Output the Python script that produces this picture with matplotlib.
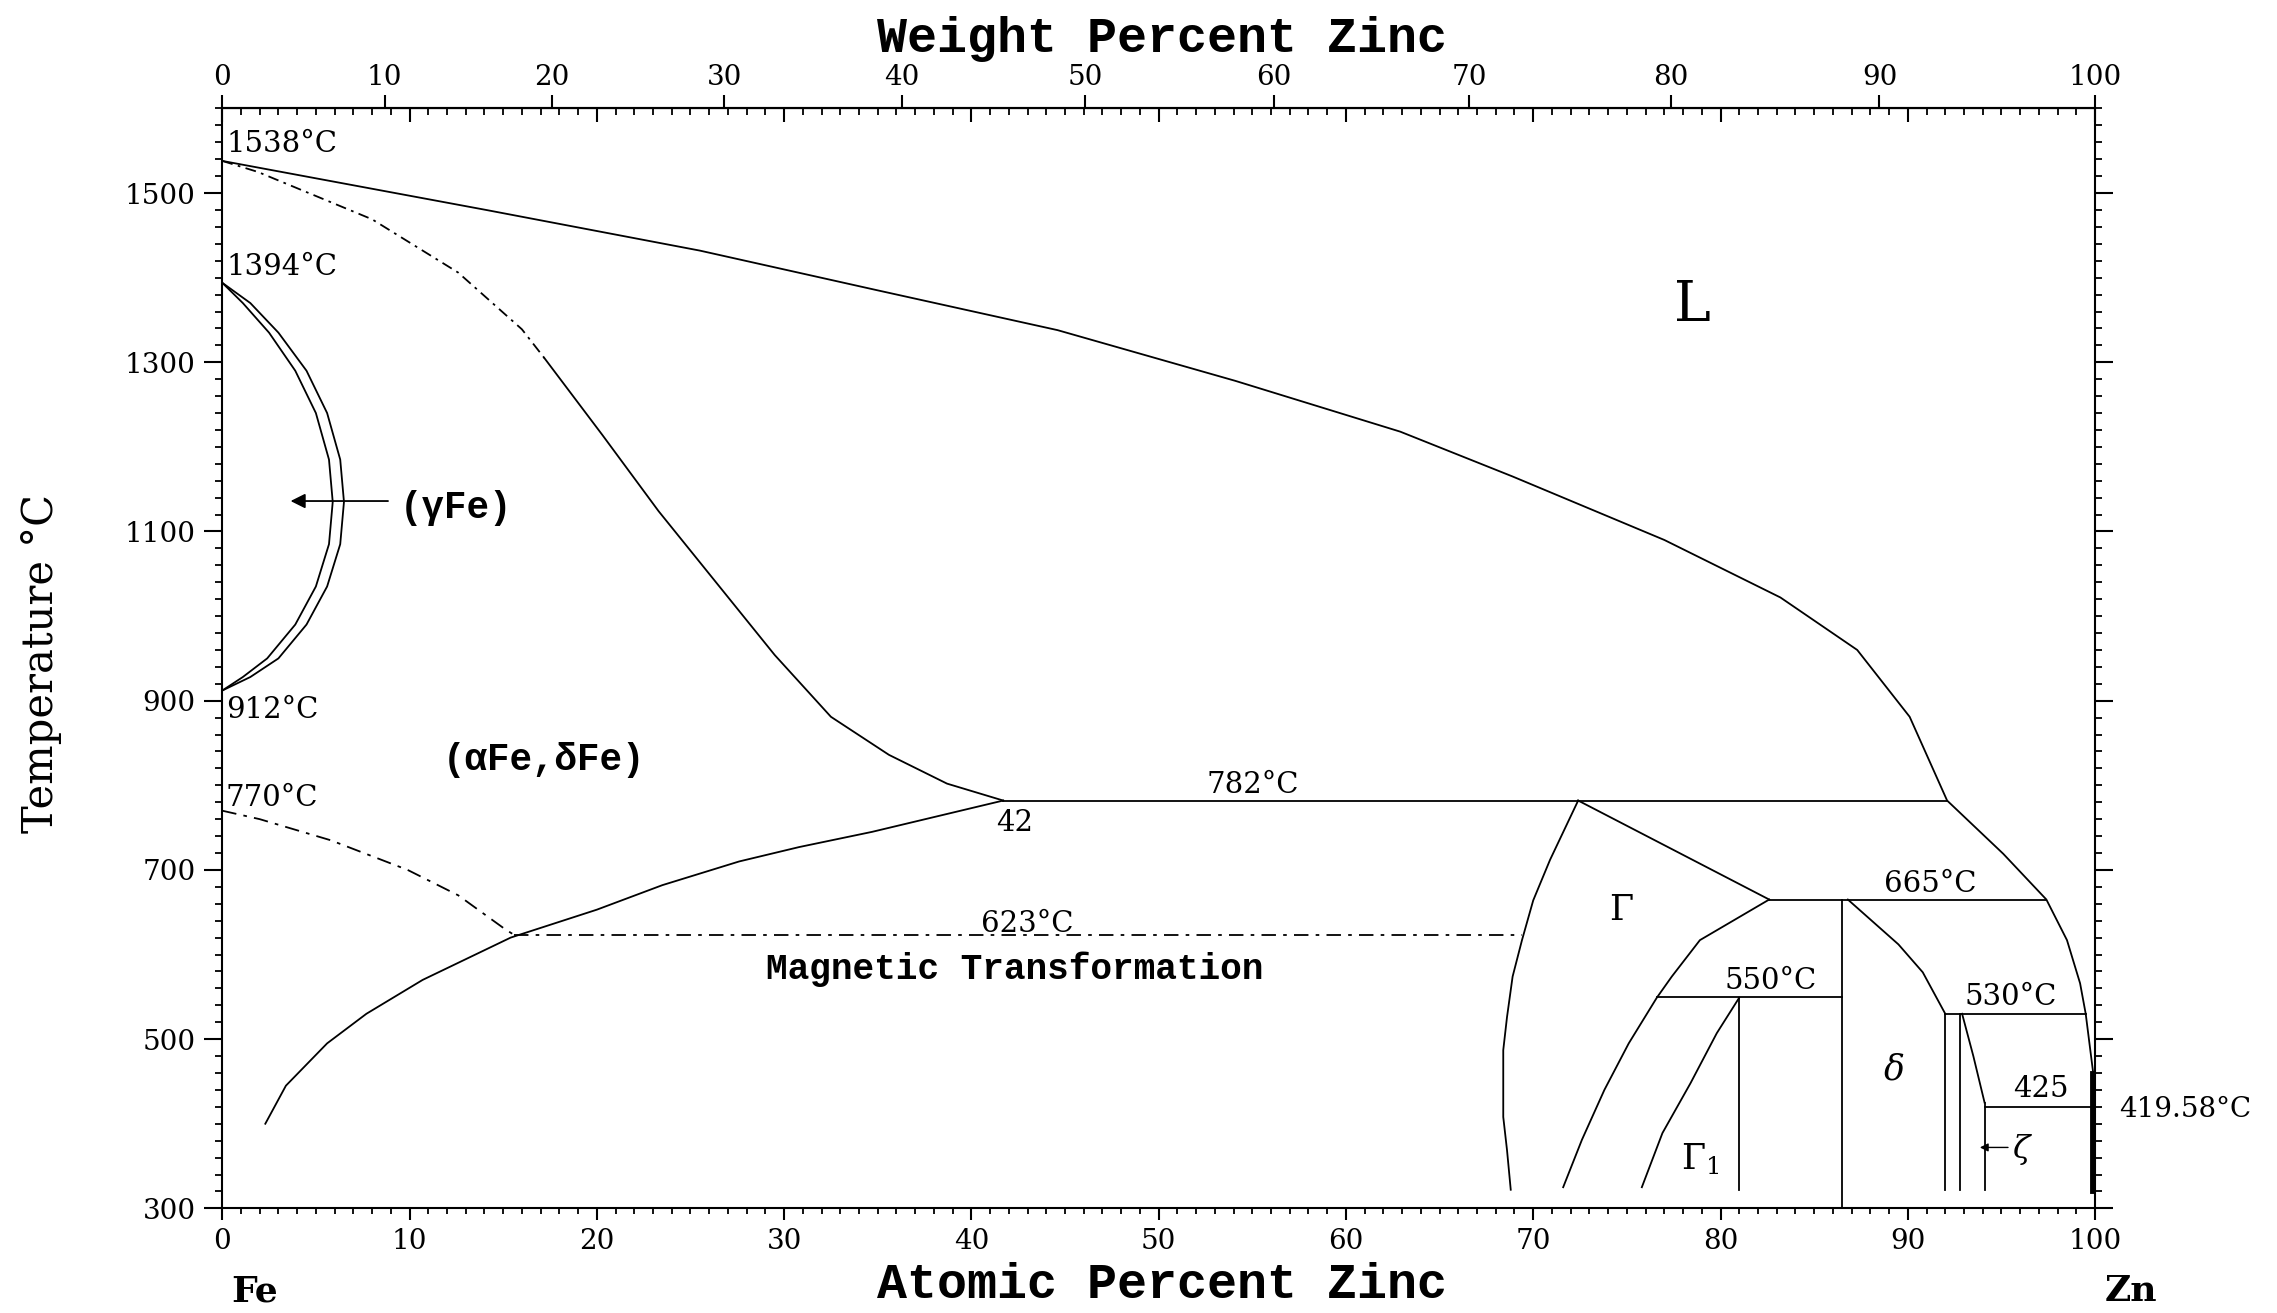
import numpy as np
import matplotlib
matplotlib.use("Agg")
import matplotlib.pyplot as plt
from matplotlib.ticker import MultipleLocator

# massas atômicas para converter at% <-> wt%
M_FE = 55.845
M_ZN = 65.38

liq_x = [0, 14.1, 25.5, 35.0, 44.6, 54.1, 62.9, 68.9, 77.0, 83.2, 87.3, 90.1, 92.1,
         95.1, 97.4, 98.5, 99.2, 99.5, 99.9, 100]
liq_t = [1538, 1480, 1432, 1385, 1338, 1278, 1218, 1165, 1090, 1022, 960, 881, 782,
         719, 665, 617, 566, 530, 460, 420]

sol_dash_x = [0, 1.9, 8.0, 12.6, 16.0, 17.2]
sol_dash_t = [1538, 1525, 1469, 1406, 1339, 1305]
sol_x = [17.2, 20.3, 23.3, 26.4, 29.5, 32.5, 35.6, 38.7, 41.7]
sol_t = [1305, 1214, 1124, 1039, 954, 881, 836, 802, 782]

gam_out_x = [0, 1.5, 3.0, 4.5, 5.6, 6.3, 6.5, 6.3, 5.6, 4.5, 3.0, 1.5, 0]
gam_in_x = [0, 1.1, 2.5, 3.9, 5.0, 5.7, 5.9, 5.7, 5.0, 3.9, 2.4, 1.1, 0]
gam_t = [1394, 1370, 1335, 1290, 1240, 1185, 1135, 1085, 1035, 990, 950, 928, 912]

alpha_x = [2.3, 3.4, 5.6, 7.7, 10.7, 15.4, 20.0, 23.5, 27.6, 30.8, 34.7, 41.7]
alpha_t = [400, 445, 495, 530, 570, 620, 653, 682, 710, 727, 745, 782]

mag_x = [0, 2.0, 5.8, 9.9, 12.6, 15.1, 15.6]
mag_t = [770, 760, 735, 700, 670, 630, 623]

gam_left_x = [72.4, 70.9, 70.0, 69.4, 68.9, 68.6, 68.4, 68.4, 68.6, 68.8]
gam_left_t = [782, 712, 664, 617, 574, 526, 487, 408, 369, 322]

gam_g1_x = [82.6, 78.9, 77.4, 76.6, 75.1, 73.8, 72.6, 71.6]
gam_g1_t = [665, 617, 574, 549, 495, 440, 381, 325]

g1_in_x = [81.0, 79.8, 78.4, 76.9, 75.8]
g1_in_t = [549, 507, 448, 389, 325]

delta_r_x = [86.8, 89.5, 90.8, 92.0]
delta_r_t = [665, 612, 579, 530]

zeta_x = [92.9, 93.5, 94.1]
zeta_t = [530, 480, 425]

# isotermas: (x inicial, x final, temperatura)
isotermas = [(41.7, 92.1, 782), (82.6, 97.4, 665), (76.6, 86.5, 550),
             (92.0, 99.5, 530), (94.1, 100.0, 420)]
# linhas verticais: (x, t superior, t inferior)
verticais = [(81.0, 549, 322), (86.5, 665, 300), (92.0, 530, 322),
             (92.8, 530, 322), (94.1, 425, 322)]
gam_apex = ([72.4, 82.6], [782, 665])
t_mag = 623
x_mag = (15.6, 69.4)


def at_para_wt(a):
    a = np.asarray(a, dtype=float)
    return a * M_ZN / (a * M_ZN + (100 - a) * M_FE) * 100


def wt_para_at(w):
    w = np.asarray(w, dtype=float)
    return (w / M_ZN) / (w / M_ZN + (100 - w) / M_FE) * 100


plt.rcParams['mathtext.fontset'] = 'dejavuserif'
SERIF = 'DejaVu Serif'
MONO = ['Liberation Mono', 'DejaVu Sans Mono']
LW = 1.3

fig = plt.figure(figsize=(22.77, 13.13), dpi=100)
ax = fig.add_axes([0.0976, 0.0797, 0.8225, 0.8377])
ax.set_xlim(0, 100)
ax.set_ylim(300, 1600)

kw = dict(color='black', lw=LW)
ax.plot(liq_x, liq_t, **kw)
ax.plot(sol_dash_x, sol_dash_t, color='black', lw=LW, ls=(0, (6, 3, 1.5, 3)))
ax.plot(sol_x, sol_t, **kw)
ax.plot(gam_out_x, gam_t, **kw)
ax.plot(gam_in_x, gam_t, **kw)
ax.plot(alpha_x, alpha_t, **kw)
ax.plot(mag_x, mag_t, color='black', lw=LW, ls=(0, (8, 4, 2, 4)))
ax.plot(x_mag, [t_mag, t_mag], color='black', lw=LW, ls=(0, (8, 4, 2, 4)))
ax.plot(gam_left_x, gam_left_t, **kw)
ax.plot(*gam_apex, **kw)
ax.plot(gam_g1_x, gam_g1_t, **kw)
ax.plot(g1_in_x, g1_in_t, **kw)
ax.plot(delta_r_x, delta_r_t, **kw)
ax.plot(zeta_x, zeta_t, **kw)
for x0, x1, t in isotermas:
    ax.plot([x0, x1], [t, t], **kw)
for x, t0, t1 in verticais:
    ax.plot([x, x], [t0, t1], **kw)
ax.plot([99.85, 99.85], [460, 320], color='black', lw=3.5)

# ---------------------- textos ----------------------
fs = 21
ax.text(0.2, 1541, '1538°C', family=SERIF, fontsize=fs, va='bottom', ha='left')
ax.text(0.2, 1396, '1394°C', family=SERIF, fontsize=fs, va='bottom', ha='left')
ax.text(0.2, 906, '912°C', family=SERIF, fontsize=fs, va='top', ha='left')
ax.text(0.2, 768, '770°C', family=SERIF, fontsize=fs, va='bottom', ha='left')
ax.text(55.0, 784, '782°C', family=SERIF, fontsize=fs, va='bottom', ha='center')
ax.text(42.3, 756, '42', family=SERIF, fontsize=fs, va='center', ha='center')
ax.text(43.0, 619, '623°C', family=SERIF, fontsize=fs, va='bottom', ha='center')
ax.text(91.2, 667, '665°C', family=SERIF, fontsize=fs, va='bottom', ha='center')
ax.text(82.7, 552, '550°C', family=SERIF, fontsize=fs, va='bottom', ha='center')
ax.text(95.5, 533, '530°C', family=SERIF, fontsize=fs, va='bottom', ha='center')
ax.text(97.1, 424, '425', family=SERIF, fontsize=fs, va='bottom', ha='center')
ax.text(101.3, 417, '419.58°C', family=SERIF, fontsize=20, va='center', ha='left',
        clip_on=False)

ax.text(42.3, 583, 'Magnetic Transformation', family=MONO, weight='bold',
        fontsize=26, ha='center', va='center')
ax.text(17.2, 830, '(αFe,δFe)', family=MONO, weight='bold', fontsize=27,
        ha='center', va='center')
ax.text(9.5, 1128, '(γFe)', family=MONO, weight='bold', fontsize=27,
        ha='left', va='center')
ax.annotate('', xy=(3.5, 1136), xytext=(9.0, 1136),
            arrowprops=dict(arrowstyle='-|>', color='black', lw=LW,
                            mutation_scale=22))

ax.text(78.5, 1367, 'L', family=SERIF, fontsize=40, ha='center', va='center')
ax.text(74.7, 653, 'Γ', family=SERIF, fontsize=25, ha='center', va='center')
ax.text(78.9, 358, r'$\Gamma_{1}$', fontsize=25, ha='center', va='center')
ax.text(89.3, 464, 'δ', family=SERIF, style='italic', fontsize=25,
        ha='center', va='center')
ax.text(95.6, 370, 'ζ', family=SERIF, style='italic', fontsize=23,
        ha='left', va='center')
ax.annotate('', xy=(93.7, 372), xytext=(95.5, 372),
            arrowprops=dict(arrowstyle='-|>', color='black', lw=1.0,
                            mutation_scale=12))

# ---------------------- eixos ----------------------
for s in ax.spines.values():
    s.set_linewidth(1.5)

ax.xaxis.set_major_locator(MultipleLocator(10))
ax.xaxis.set_minor_locator(MultipleLocator(1))
ax.yaxis.set_minor_locator(MultipleLocator(20))
ax.set_yticks(np.arange(300, 1600, 200))

ax.tick_params(axis='x', which='major', direction='out', length=8.5, width=1.5,
               pad=6, labelsize=20)
ax.tick_params(axis='x', which='minor', direction='out', length=4, width=1.3)
ax.tick_params(axis='y', which='major', direction='out', length=13, width=1.5,
               pad=6, labelsize=20, right=True)
ax.tick_params(axis='y', which='minor', direction='out', length=5, width=1.3,
               right=True)
for lbl in ax.get_xticklabels() + ax.get_yticklabels():
    lbl.set_family(SERIF)

# eixo superior: ticks em at% apontando para dentro
top_at = ax.secondary_xaxis('top')
top_at.xaxis.set_major_locator(MultipleLocator(10))
top_at.xaxis.set_minor_locator(MultipleLocator(1))
top_at.tick_params(which='major', direction='in', length=10, width=1.5,
                   labeltop=False)
top_at.tick_params(which='minor', direction='in', length=5, width=1.3)
top_at.spines['top'].set_linewidth(1.5)

# eixo superior: porcentagem em peso
top_wt = ax.secondary_xaxis('top', functions=(at_para_wt, wt_para_at))
top_wt.set_xticks(np.arange(0, 101, 10))
top_wt.xaxis.set_minor_locator(plt.NullLocator())
top_wt.tick_params(which='major', direction='out', length=9.5, width=1.5,
                   pad=3, labelsize=20)
for lbl in top_wt.get_xticklabels():
    lbl.set_family(SERIF)

fig.text(0.5105, 0.970, 'Weight Percent Zinc', family=MONO, weight='bold',
         fontsize=36, ha='center', va='center')
fig.text(0.5105, 0.0213, 'Atomic Percent Zinc', family=MONO, weight='bold',
         fontsize=36, ha='center', va='center')
fig.text(0.018, 0.495, 'Temperature °C', family=SERIF, fontsize=30,
         rotation=90, ha='center', va='center')
fig.text(0.112, 0.016, 'Fe', family=SERIF, weight='bold', fontsize=26,
         ha='center', va='center')
fig.text(0.936, 0.017, 'Zn', family=SERIF, weight='bold', fontsize=26,
         ha='center', va='center')

fig.savefig('out.png', dpi=100, facecolor='white')
